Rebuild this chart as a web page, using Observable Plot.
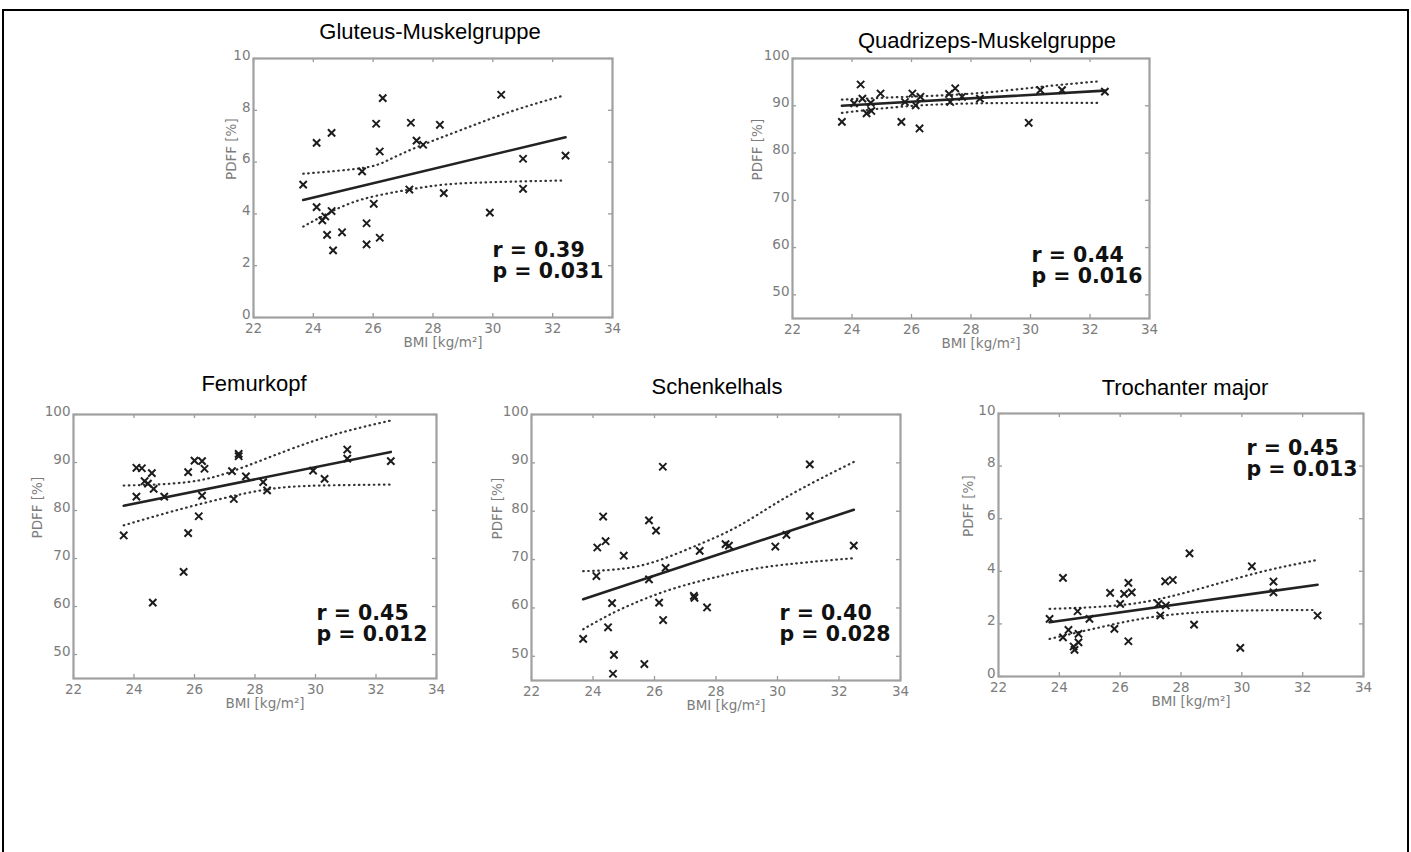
<!DOCTYPE html>
<html><head><meta charset="utf-8">
<script src="https://cdn.jsdelivr.net/npm/d3@7"></script>
<script src="https://cdn.jsdelivr.net/npm/@observablehq/plot@0.6"></script>
<style>
body{margin:0;background:#fff;width:1411px;height:852px;overflow:hidden;position:relative;font-family:"DejaVu Sans",sans-serif}
#border{position:absolute;left:2px;top:9px;width:1403px;height:900px;border:2px solid #000;border-bottom:none}
.title{position:absolute;font-family:"Liberation Sans",Arial,sans-serif;font-size:22px;color:#000;transform:translate(-50%,-50%);line-height:1;white-space:nowrap}
svg{position:absolute;overflow:visible}
</style></head><body>
<div id="border"></div>
<script>
// ---------- shared axis data ----------
const xTicks = [22, 24, 26, 28, 30, 32, 34];
const yTicksSmall = [0, 2, 4, 6, 8, 10];
const yTicksLarge = [50, 60, 70, 80, 90, 100];
const xLabel = "BMI [kg/m²]";
const yLabel = "PDFF [%]";

// ---------- Gluteus-Muskelgruppe ----------
const gluteusTitle = "Gluteus-Muskelgruppe";
const gluteusBMI  = [23.66,24.11,24.11,24.30,24.40,24.46,24.61,24.61,24.66,24.96,25.63,25.78,25.78,26.02,26.10,26.22,26.22,26.32,27.21,27.26,27.45,27.67,28.23,28.36,29.90,30.28,31.01,31.01,32.43];
const gluteusPDFF = [5.13,6.74,4.26,3.75,3.90,3.19,7.13,4.11,2.59,3.29,5.64,3.64,2.82,4.39,7.48,6.41,3.08,8.47,4.94,7.52,6.83,6.67,7.44,4.80,4.05,8.60,6.13,4.97,6.25];
const gluteusFitX = [23.66, 32.43];
const gluteusFitY = [4.54, 6.96];
const gluteusUpX = [23.66,25.63,26.47,27.47,29.03,30.70,32.37];
const gluteusUpY = [5.55,5.77,6.06,6.58,7.28,7.99,8.57];
const gluteusLoX = [23.66,24.57,25.69,27.21,28.47,30.14,32.37];
const gluteusLoY = [3.51,4.07,4.58,4.94,5.14,5.23,5.29];
const gluteusR = "0.39", gluteusP = "0.031";

// ---------- Quadrizeps-Muskelgruppe ----------
const quadTitle = "Quadrizeps-Muskelgruppe";
const quadBMI  = [23.66,24.07,24.29,24.35,24.49,24.65,24.63,24.96,25.66,25.78,26.03,26.14,26.27,26.30,27.26,27.30,27.47,27.70,28.30,29.94,30.33,31.06,32.50];
const quadPDFF = [86.6,90.5,94.5,91.5,88.4,88.9,90.6,92.6,86.6,90.8,92.6,90.1,85.2,91.9,92.5,90.8,93.7,91.9,91.5,86.4,93.3,93.3,93.0];
const quadFitX = [23.66, 32.50];
const quadFitY = [90.0, 93.2];
const quadUpX = [23.66,25.86,28.10,30.33,32.35];
const quadUpY = [91.3,91.9,92.6,94.0,95.2];
const quadLoX = [23.66,25.86,28.10,30.33,32.35];
const quadLoY = [88.5,89.9,90.5,90.6,90.6];
const quadR = "0.44", quadP = "0.016";

// ---------- Femurkopf ----------
const femurTitle = "Femurkopf";
const femurBMI  = [23.66,24.08,24.08,24.26,24.35,24.46,24.59,24.65,24.62,25.00,25.64,25.79,25.79,26.00,26.14,26.25,26.25,26.33,27.24,27.30,27.46,27.46,27.70,28.27,28.40,29.92,30.30,31.05,31.05,32.49];
const femurPDFF = [74.8,82.9,88.9,88.8,86.1,85.6,87.8,84.5,60.8,82.9,67.2,88.0,75.3,90.4,78.8,90.3,83.1,88.7,88.2,82.4,91.8,91.3,87.1,85.9,84.2,88.3,86.6,92.7,90.8,90.3];
const femurFitX = [23.66, 32.49];
const femurFitY = [81.0, 92.2];
const femurUpX = [23.66,25.75,27.30,29.06,30.72,32.49];
const femurUpY = [85.2,85.9,88.3,92.5,96.0,98.75];
const femurLoX = [23.66,25.20,26.86,28.51,30.17,32.49];
const femurLoY = [76.9,79.7,82.4,84.5,85.2,85.4];
const femurR = "0.45", femurP = "0.012";

// ---------- Schenkelhals ----------
const neckTitle = "Schenkelhals";
const neckBMI  = [23.68,24.11,24.14,24.33,24.41,24.49,24.62,24.68,24.65,25.00,25.67,25.82,25.82,26.05,26.15,26.27,26.28,26.36,27.28,27.30,27.47,27.71,28.31,28.42,29.93,30.29,31.05,31.05,32.48];
const neckPDFF = [53.6,66.6,72.5,78.9,73.8,56.0,61.0,50.3,46.4,70.8,48.4,78.1,65.9,76.0,61.1,89.2,57.5,68.3,62.5,62.1,71.8,60.1,73.2,72.9,72.7,75.1,89.7,79.0,72.9];
const neckFitX = [23.68, 32.48];
const neckFitY = [61.8, 80.3];
const neckUpX = [23.68,25.44,27.06,28.69,30.31,32.48];
const neckUpY = [67.6,68.6,72.1,76.8,83.0,90.2];
const neckLoX = [23.68,24.89,26.52,28.15,29.77,32.48];
const neckLoY = [55.6,59.7,63.8,66.6,68.6,70.3];
const neckR = "0.40", neckP = "0.028";

// ---------- Trochanter major ----------
const trochTitle = "Trochanter major";
const trochBMI  = [23.68,24.12,24.12,24.30,24.47,24.50,24.63,24.63,24.60,24.99,25.67,25.81,26.00,26.13,26.27,26.27,26.38,27.26,27.32,27.48,27.73,27.50,28.28,28.43,29.95,30.33,31.04,31.04,32.49];
const trochPDFF = [2.19,3.75,1.49,1.77,1.14,1.01,1.62,1.30,2.48,2.19,3.18,1.81,2.76,3.14,3.56,1.34,3.20,2.76,2.32,3.62,3.67,2.70,4.68,1.97,1.09,4.19,3.61,3.20,2.32];
const trochFitX = [23.68, 32.49];
const trochFitY = [2.06, 3.49];
const trochUpX = [23.68,25.89,27.53,29.18,30.82,32.47];
const trochUpY = [2.57,2.70,3.01,3.52,4.03,4.43];
const trochLoX = [23.68,25.34,26.99,28.63,30.27,32.47];
const trochLoY = [1.43,1.87,2.25,2.44,2.51,2.53];
const trochR = "0.45", trochP = "0.013";

// ---------- drawing ----------
const mL = 70, mR = 30, mT = 30, mB = 50;
const zip = (xs, ys) => xs.map((x, i) => ({x, y: ys[i]}));

function drawPanel(c) {
  const fw = c.box.R - c.box.L, fh = c.box.B - c.box.T;
  const tickStyle = {stroke: "#9a9a9a", strokeWidth: 1.3};
  const dotted = {x: "x", y: "y", curve: "natural", stroke: "#333", strokeWidth: 2.2, strokeDasharray: "0.6 4.4", strokeLinecap: "round"};
  const chart = Plot.plot({
    width: fw + mL + mR, height: fh + mT + mB,
    marginLeft: mL, marginRight: mR, marginTop: mT, marginBottom: mB,
    style: {fontFamily: '"DejaVu Sans", sans-serif', fontSize: "13.5px", color: "#7c7c7c", background: "transparent", overflow: "visible"},
    x: {domain: [22, 34]},
    y: {domain: c.yDomain},
    marks: [
      Plot.tickX(xTicks, {x: d => d, insetTop: fh - 4, ...tickStyle}),
      Plot.tickX(xTicks, {x: d => d, insetBottom: fh - 4, ...tickStyle}),
      Plot.tickY(c.yTicks, {y: d => d, insetRight: fw - 4, ...tickStyle}),
      Plot.tickY(c.yTicks, {y: d => d, insetLeft: fw - 4, ...tickStyle}),
      Plot.frame({stroke: "#a0a0a0", strokeWidth: 2.2}),
      Plot.axisX(xTicks, {tickSize: 0, tickPadding: 6, label: null, fontSize: 13.5}),
      Plot.axisY(c.yTicks, {tickSize: 0, tickPadding: 3, label: null, fontSize: 13.5, dy: -3}),
      Plot.line(zip(c.upX, c.upY), dotted),
      Plot.line(zip(c.loX, c.loY), dotted),
      Plot.line(zip(c.fitX, c.fitY), {x: "x", y: "y", stroke: "#222", strokeWidth: 2.6}),
      Plot.dot(zip(c.bmi, c.pdff), {x: "x", y: "y", symbol: "times", r: 3.4, stroke: "#1c1c1c", strokeWidth: 2}),
      Plot.text([xLabel], {frameAnchor: "bottom", dx: 10, dy: 29, fill: "#7c7c7c", fontSize: 13.5}),
      Plot.text([yLabel], {frameAnchor: "left", rotate: -90, dx: c.ylabDx, dy: -8, fill: "#7c7c7c", fontSize: 13.5}),
      Plot.text([`r = ${c.r}\np = ${c.p}`], {frameAnchor: c.statsAnchor, dx: c.statsDx, dy: c.statsDy, textAnchor: "start", lineAnchor: "top", fontWeight: "bold", fontSize: 20.5, lineHeight: 1.05, fill: "#111"})
    ]
  });
  chart.style.left = (c.box.L - mL) + "px";
  chart.style.top = (c.box.T - mT) + "px";
  document.body.appendChild(chart);
  const t = document.createElement("div");
  t.className = "title";
  t.textContent = c.title;
  t.style.left = c.titleX + "px";
  t.style.top = c.titleY + "px";
  document.body.appendChild(t);
}

drawPanel({title: gluteusTitle, titleX: 430, titleY: 32, box: {L: 253, T: 58, R: 612, B: 317},
  bmi: gluteusBMI, pdff: gluteusPDFF, fitX: gluteusFitX, fitY: gluteusFitY, upX: gluteusUpX, upY: gluteusUpY, loX: gluteusLoX, loY: gluteusLoY,
  yDomain: [0, 10], yTicks: yTicksSmall, r: gluteusR, p: gluteusP, statsAnchor: "bottom-right", statsDx: -120, statsDy: -76, ylabDx: -22});

drawPanel({title: quadTitle, titleX: 987, titleY: 41, box: {L: 792, T: 58, R: 1149, B: 318},
  bmi: quadBMI, pdff: quadPDFF, fitX: quadFitX, fitY: quadFitY, upX: quadUpX, upY: quadUpY, loX: quadLoX, loY: quadLoY,
  yDomain: [45, 100], yTicks: yTicksLarge, r: quadR, p: quadP, statsAnchor: "bottom-right", statsDx: -118, statsDy: -72, ylabDx: -35});

drawPanel({title: femurTitle, titleX: 254, titleY: 384, box: {L: 73, T: 414, R: 436, B: 678},
  bmi: femurBMI, pdff: femurPDFF, fitX: femurFitX, fitY: femurFitY, upX: femurUpX, upY: femurUpY, loX: femurLoX, loY: femurLoY,
  yDomain: [45, 100], yTicks: yTicksLarge, r: femurR, p: femurP, statsAnchor: "bottom-right", statsDx: -120, statsDy: -74, ylabDx: -36});

drawPanel({title: neckTitle, titleX: 717, titleY: 387, box: {L: 531, T: 414, R: 900, B: 680},
  bmi: neckBMI, pdff: neckPDFF, fitX: neckFitX, fitY: neckFitY, upX: neckUpX, upY: neckUpY, loX: neckLoX, loY: neckLoY,
  yDomain: [45, 100], yTicks: yTicksLarge, r: neckR, p: neckP, statsAnchor: "bottom-right", statsDx: -121, statsDy: -76, ylabDx: -34});

drawPanel({title: trochTitle, titleX: 1185, titleY: 388, box: {L: 998, T: 413, R: 1363, B: 676},
  bmi: trochBMI, pdff: trochPDFF, fitX: trochFitX, fitY: trochFitY, upX: trochUpX, upY: trochUpY, loX: trochLoX, loY: trochLoY,
  yDomain: [0, 10], yTicks: yTicksSmall, r: trochR, p: trochP, statsAnchor: "top-right", statsDx: -117, statsDy: 26, ylabDx: -30});
</script>
</body></html>
